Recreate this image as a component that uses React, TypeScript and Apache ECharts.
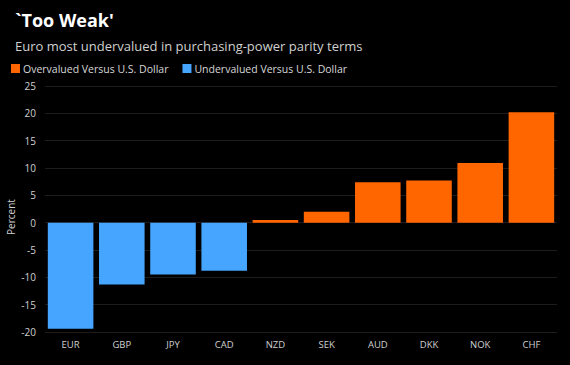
import React, { useEffect, useRef } from "react";
import * as echarts from "echarts";

const categories = ["EUR", "GBP", "JPY", "CAD", "NZD", "SEK", "AUD", "DKK", "NOK", "CHF"];
const values = [-19.4, -11.3, -9.5, -8.8, 0.5, 2.0, 7.4, 7.7, 10.9, 20.2];
const yTicks = { min: -20, max: 25, interval: 5 };
const overLabel = "Overvalued Versus U.S. Dollar";
const underLabel = "Undervalued Versus U.S. Dollar";
const titleText = "`Too Weak'";
const subtitleText = "Euro most undervalued in purchasing-power parity terms";
const yAxisName = "Percent";

const ORANGE = "#ff6600";
const BLUE = "#45a5ff";
const FONT = "Open Sans";

export default function App() {
  const ref = useRef<HTMLDivElement>(null);
  useEffect(() => {
    if (!ref.current) return;
    const chart = echarts.init(ref.current, null, { renderer: "svg" });
    const over = values.map((v) => (v >= 0 ? v : null));
    const under = values.map((v) => (v < 0 ? v : null));
    chart.setOption({
      animation: false,
      backgroundColor: "#000000",
      textStyle: { fontFamily: FONT },
      title: [
        {
          text: titleText,
          left: 10,
          top: 6,
          textStyle: { color: "#ffffff", fontSize: 18, fontWeight: "bold", fontFamily: FONT },
        },
        {
          text: subtitleText,
          left: 10,
          top: 34,
          textStyle: { color: "#d0d0d0", fontSize: 13, fontWeight: "normal", fontFamily: FONT },
        },
      ],
      legend: {
        left: 6,
        top: 58,
        icon: "rect",
        itemWidth: 9,
        itemHeight: 9,
        itemGap: 14,
        textStyle: { color: "#d8d8d8", fontSize: 10.5, fontFamily: FONT, padding: [0, 0, 0, -2] },
        data: [overLabel, underLabel],
      },
      graphic: [
        {
          type: "text",
          x: 11,
          y: 217,
          rotation: Math.PI / 2,
          style: {
            text: yAxisName,
            fill: "#d0d0d0",
            fontSize: 10,
            fontFamily: FONT,
            textAlign: "center",
            textVerticalAlign: "middle",
          },
        },
      ],
      grid: { left: 45, right: 13, top: 86, bottom: 33, containLabel: false, outerBoundsMode: "none" },
      xAxis: {
        type: "category",
        data: categories,
        axisLine: { show: false },
        axisTick: { show: false },
        axisLabel: { color: "#d0d0d0", fontSize: 9.5, margin: 7, fontFamily: FONT },
      },
      yAxis: {
        type: "value",
        min: yTicks.min,
        max: yTicks.max,
        interval: yTicks.interval,
        axisLine: { show: false },
        axisTick: { show: false },
        axisLabel: { color: "#d0d0d0", fontSize: 10, margin: 9, fontFamily: FONT },
        splitLine: { lineStyle: { color: "#1c1c1c", width: 1 } },
      },
      series: [
        {
          name: overLabel,
          type: "bar",
          stack: "v",
          data: over,
          barCategoryGap: "11%",
          itemStyle: { color: ORANGE },
        },
        {
          name: underLabel,
          type: "bar",
          stack: "v",
          data: under,
          barCategoryGap: "11%",
          itemStyle: { color: BLUE },
        },
      ],
    });
    return () => chart.dispose();
  }, []);
  return (
    <div
      ref={ref}
      style={{ position: "fixed", left: 0, top: 0, width: 570, height: 365, background: "#000" }}
    />
  );
}
